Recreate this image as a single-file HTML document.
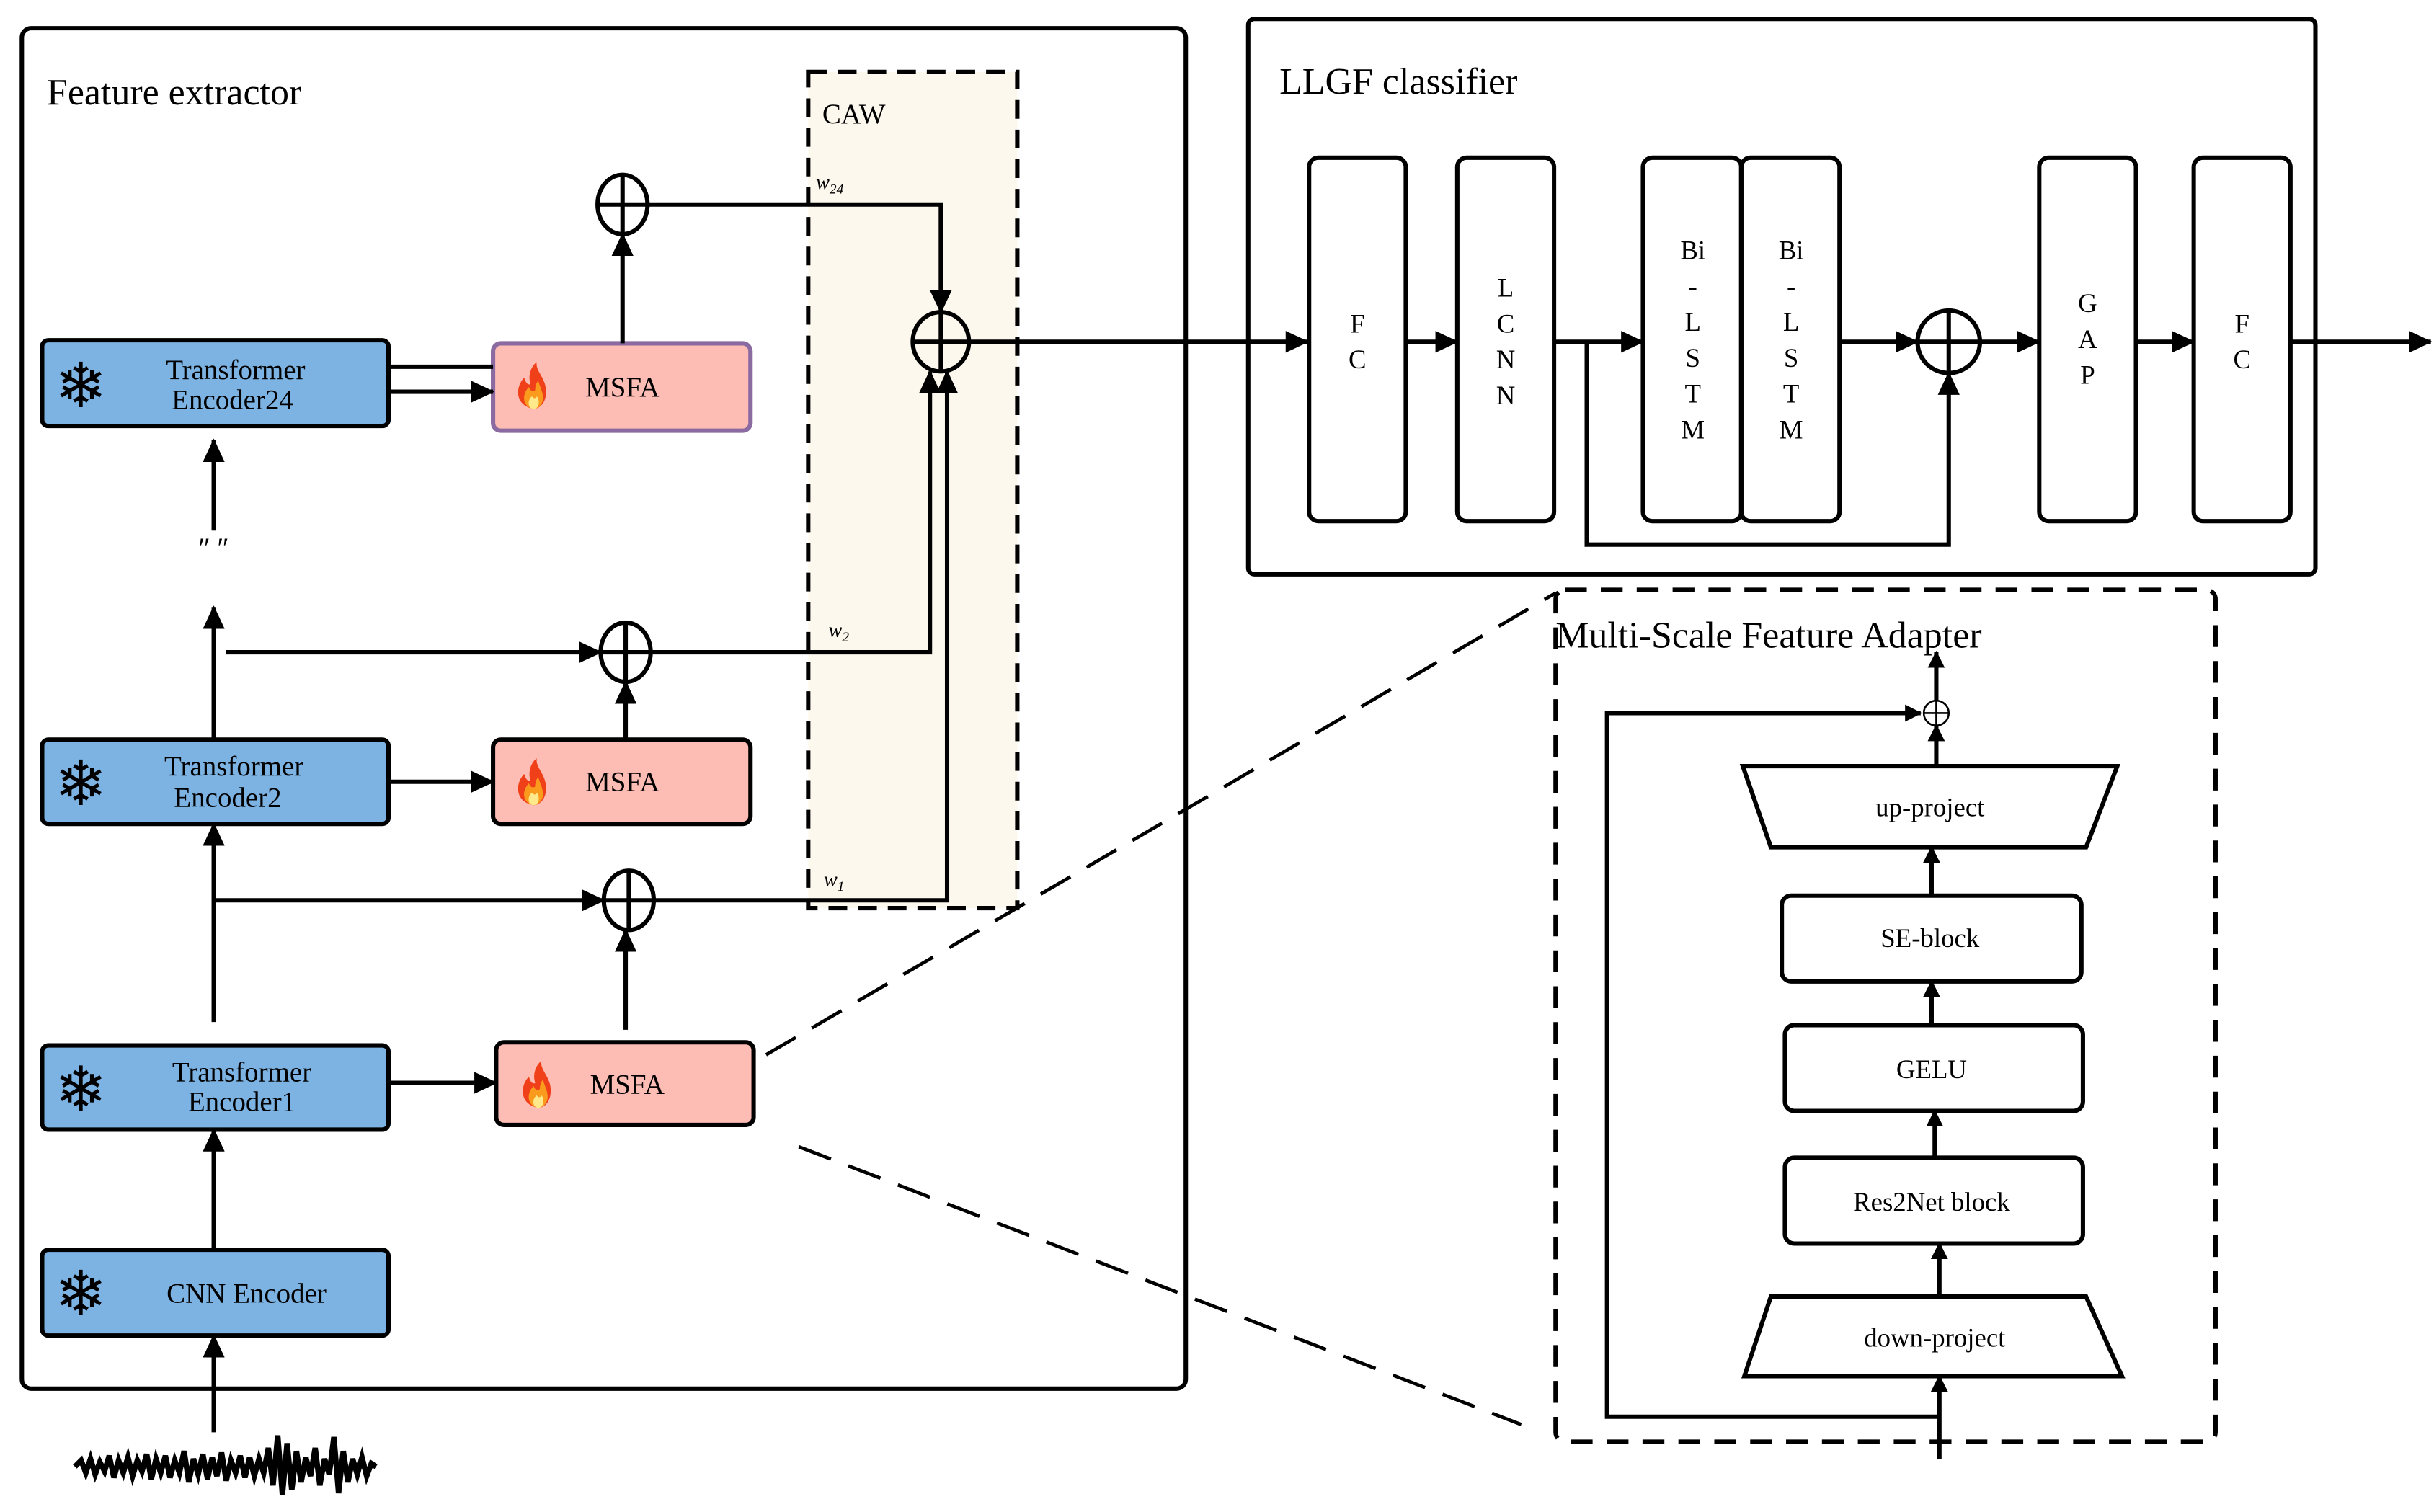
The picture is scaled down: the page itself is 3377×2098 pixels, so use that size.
<!DOCTYPE html>
<html><head><meta charset="utf-8"><style>
html,body{margin:0;padding:0;background:#fff}
svg{display:block}
text{font-family:"Liberation Serif",serif;fill:#000}
</style></head><body>
<svg width="3377" height="2098" viewBox="0 0 1560 969" xmlns="http://www.w3.org/2000/svg">
<defs>
<marker id="a" markerWidth="15" markerHeight="14" refX="14" refY="7" orient="auto" markerUnits="userSpaceOnUse" viewBox="0 0 15 14"><path d="M0,0 L15,7 L0,14 Z" fill="#000"/></marker>
<marker id="s" markerWidth="11" markerHeight="11" refX="10" refY="5.5" orient="auto" markerUnits="userSpaceOnUse" viewBox="0 0 11 11"><path d="M0,0 L11,5.5 L0,11 Z" fill="#000"/></marker>
<g id="flame"><path d="M0,14 C-12,12 -12,0 -6,-6 C-5,-2 -3,-1 -2,-2 C-4,-8 -1,-14 2,-16 C1,-10 8,-6 8,3 C8,10 4,14 0,14 Z" fill="#f0401a"/><path d="M0,14 C-7,13 -8,5 -3,0 C-2,3 0,3 1,2 C1,-1 2,-3 3,-4 C4,0 6,3 6,7 C6,11 3,14 0,14 Z" fill="#fb9b1e"/><path d="M0,14 C-4,14 -4,8 -1,6 C0,8 2,7 2,6 C4,8 4,14 0,14 Z" fill="#ffe98a"/></g>
</defs>
<g fill="none" stroke="#000" stroke-width="2.8">
<rect x="14" y="18" width="746" height="872" rx="6"/>
<rect x="518" y="46" width="134" height="536" fill="#fdf8ee" stroke-dasharray="12,7"/>
<rect x="27" y="218" width="222" height="55" rx="4" fill="#7db3e3"/>
<rect x="27" y="474" width="222" height="54" rx="4" fill="#7db3e3"/>
<rect x="27" y="670" width="222" height="54" rx="4" fill="#7db3e3"/>
<rect x="27" y="801" width="222" height="55" rx="4" fill="#7db3e3"/>
<rect x="316" y="220" width="165" height="56" rx="5" fill="#fdbcb4" stroke="#8a6aa0"/>
<rect x="316" y="474" width="165" height="54" rx="5" fill="#fdbcb4"/>
<rect x="318" y="668" width="165" height="53" rx="5" fill="#fdbcb4"/>
<ellipse cx="399" cy="131" rx="16" ry="19"/><path d="M383,131H415M399,112V150"/>
<ellipse cx="401" cy="418" rx="16" ry="19"/><path d="M385,418H417M401,399V437"/>
<ellipse cx="403" cy="577" rx="16" ry="19"/><path d="M387,577H419M403,558V596"/>
<ellipse cx="603" cy="219" rx="18" ry="19"/><path d="M585,219H621M603,200V238"/>
<path d="M249,235H316"/>
<path d="M249,251H316" marker-end="url(#a)"/>
<path d="M399,220V150" marker-end="url(#a)"/>
<path d="M415,131H603V200" marker-end="url(#a)"/>
<path d="M137,340V282" marker-end="url(#a)"/>
<path d="M137,473V389" marker-end="url(#a)"/>
<path d="M145,418H385" marker-end="url(#a)"/>
<path d="M417,418H596V238" marker-end="url(#a)"/>
<path d="M249,501H316" marker-end="url(#a)"/>
<path d="M401,474V437" marker-end="url(#a)"/>
<path d="M137,655V528" marker-end="url(#a)"/>
<path d="M137,577H387" marker-end="url(#a)"/>
<path d="M419,577H607V238" marker-end="url(#a)"/>
<path d="M249,694H318" marker-end="url(#a)"/>
<path d="M401,660V596" marker-end="url(#a)"/>
<path d="M137,801V724" marker-end="url(#a)"/>
<path d="M137,918V856" marker-end="url(#a)"/>
<path d="M621,219H838" marker-end="url(#a)"/>
<rect x="800" y="12" width="684" height="356" rx="4"/>
<rect x="839" y="101" width="62" height="233" rx="6"/>
<rect x="934" y="101" width="62" height="233" rx="6"/>
<rect x="1053" y="101" width="63" height="233" rx="6"/>
<rect x="1116" y="101" width="63" height="233" rx="6"/>
<rect x="1307" y="101" width="62" height="233" rx="6"/>
<rect x="1406" y="101" width="62" height="233" rx="6"/>
<ellipse cx="1249" cy="219" rx="20" ry="20"/><path d="M1229,219H1269M1249,199V239"/>
<path d="M901,219H934" marker-end="url(#a)"/>
<path d="M996,219H1053" marker-end="url(#a)"/>
<path d="M1179,219H1229" marker-end="url(#a)"/>
<path d="M1269,219H1307" marker-end="url(#a)"/>
<path d="M1369,219H1406" marker-end="url(#a)"/>
<path d="M1468,219H1558" marker-end="url(#a)"/>
<path d="M1017,219V349H1249V239" marker-end="url(#a)"/>
<path d="M491,676L997,380" stroke-dasharray="22,12" stroke-width="2.2"/>
<path d="M512,735L975,913" stroke-dasharray="22,12" stroke-width="2.2"/>
<rect x="997" y="378" width="423" height="546" rx="6" stroke-dasharray="14,9"/>
<path d="M1117,491H1357L1337,543H1135Z" fill="#fff"/>
<rect x="1142" y="574" width="192" height="55" rx="6"/>
<rect x="1144" y="657" width="191" height="55" rx="6"/>
<rect x="1144" y="742" width="191" height="55" rx="6"/>
<path d="M1135,831H1337L1360,882H1118Z" fill="#fff"/>
<path d="M1243,935V882" marker-end="url(#s)"/>
<path d="M1243,831V797" marker-end="url(#s)"/>
<path d="M1240,742V712" marker-end="url(#s)"/>
<path d="M1238,657V629" marker-end="url(#s)"/>
<path d="M1238,574V543" marker-end="url(#s)"/>
<path d="M1241,491V465" marker-end="url(#s)"/>
<path d="M1241,449V418" marker-end="url(#s)"/>
<path d="M1243,908H1030V457H1231" marker-end="url(#s)"/>
<circle cx="1241" cy="457" r="8" stroke-width="1.2"/><path d="M1233,457H1249M1241,449V465" stroke-width="1.2"/>
</g>
<path d="M48,940 L52,936 55,944 58,935 61,945 64,937 67,943 70,933 73,947 76,936 79,944 82,934 85,946 88,936 91,943 94,932 97,948 100,935 103,944 106,933 109,947 112,936 115,944 118,930 121,950 124,935 127,945 130,932 133,948 136,934 139,946 142,931 145,949 148,936 151,944 154,933 157,947 160,934 163,946 166,935 169,944 172,928 175,952 178,920 181,958 184,925 187,955 190,930 193,950 196,934 199,946 202,928 205,952 208,935 211,945 214,921 217,957 220,930 223,950 226,935 229,945 232,934 235,946 238,938 241,940" fill="none" stroke="#000" stroke-width="3.5"/>
<g font-size="40">
<text x="35" y="261" style="font-family:'DejaVu Sans',sans-serif">❄</text>
<text x="35" y="516" style="font-family:'DejaVu Sans',sans-serif">❄</text>
<text x="35" y="712" style="font-family:'DejaVu Sans',sans-serif">❄</text>
<text x="35" y="843" style="font-family:'DejaVu Sans',sans-serif">❄</text>
</g>
<use href="#flame" x="342" y="248"/>
<use href="#flame" x="342" y="502"/>
<use href="#flame" x="345" y="696"/>
<text x="30" y="67" font-size="24">Feature extractor</text>
<text x="527" y="79" font-size="18">CAW</text>
<text x="523" y="121" font-size="13" font-style="italic">w<tspan font-size="9" dy="3">24</tspan></text>
<text x="531" y="408" font-size="13" font-style="italic">w<tspan font-size="9" dy="3">2</tspan></text>
<text x="528" y="568" font-size="13" font-style="italic">w<tspan font-size="9" dy="3">1</tspan></text>
<g font-size="18" text-anchor="middle">
<text x="151" y="243">Transformer</text><text x="149" y="262">Encoder24</text>
<text x="150" y="497">Transformer</text><text x="146" y="517">Encoder2</text>
<text x="155" y="693">Transformer</text><text x="155" y="712">Encoder1</text>
<text x="158" y="835">CNN Encoder</text>
<text x="399" y="254">MSFA</text>
<text x="399" y="507">MSFA</text>
<text x="402" y="701">MSFA</text>
</g>
<text x="137" y="357" font-size="18" text-anchor="middle">″ ″</text>
<text x="820" y="60" font-size="24">LLGF classifier</text>
<g font-size="17" text-anchor="middle">
<text x="870" y="213">F</text><text x="870" y="236">C</text>
<text x="965" y="190">L</text><text x="965" y="213">C</text><text x="965" y="236">N</text><text x="965" y="259">N</text>
<text x="1085" y="166">Bi</text><text x="1085" y="189">-</text><text x="1085" y="212">L</text><text x="1085" y="235">S</text><text x="1085" y="258">T</text><text x="1085" y="281">M</text>
<text x="1148" y="166">Bi</text><text x="1148" y="189">-</text><text x="1148" y="212">L</text><text x="1148" y="235">S</text><text x="1148" y="258">T</text><text x="1148" y="281">M</text>
<text x="1338" y="200">G</text><text x="1338" y="223">A</text><text x="1338" y="246">P</text>
<text x="1437" y="213">F</text><text x="1437" y="236">C</text>
</g>
<text x="997" y="415" font-size="24">Multi-Scale Feature Adapter</text>
<g font-size="17" text-anchor="middle">
<text x="1237" y="523">up-project</text>
<text x="1237" y="607">SE-block</text>
<text x="1238" y="691">GELU</text>
<text x="1238" y="776">Res2Net block</text>
<text x="1240" y="863">down-project</text>
</g>
</svg>
</body></html>
